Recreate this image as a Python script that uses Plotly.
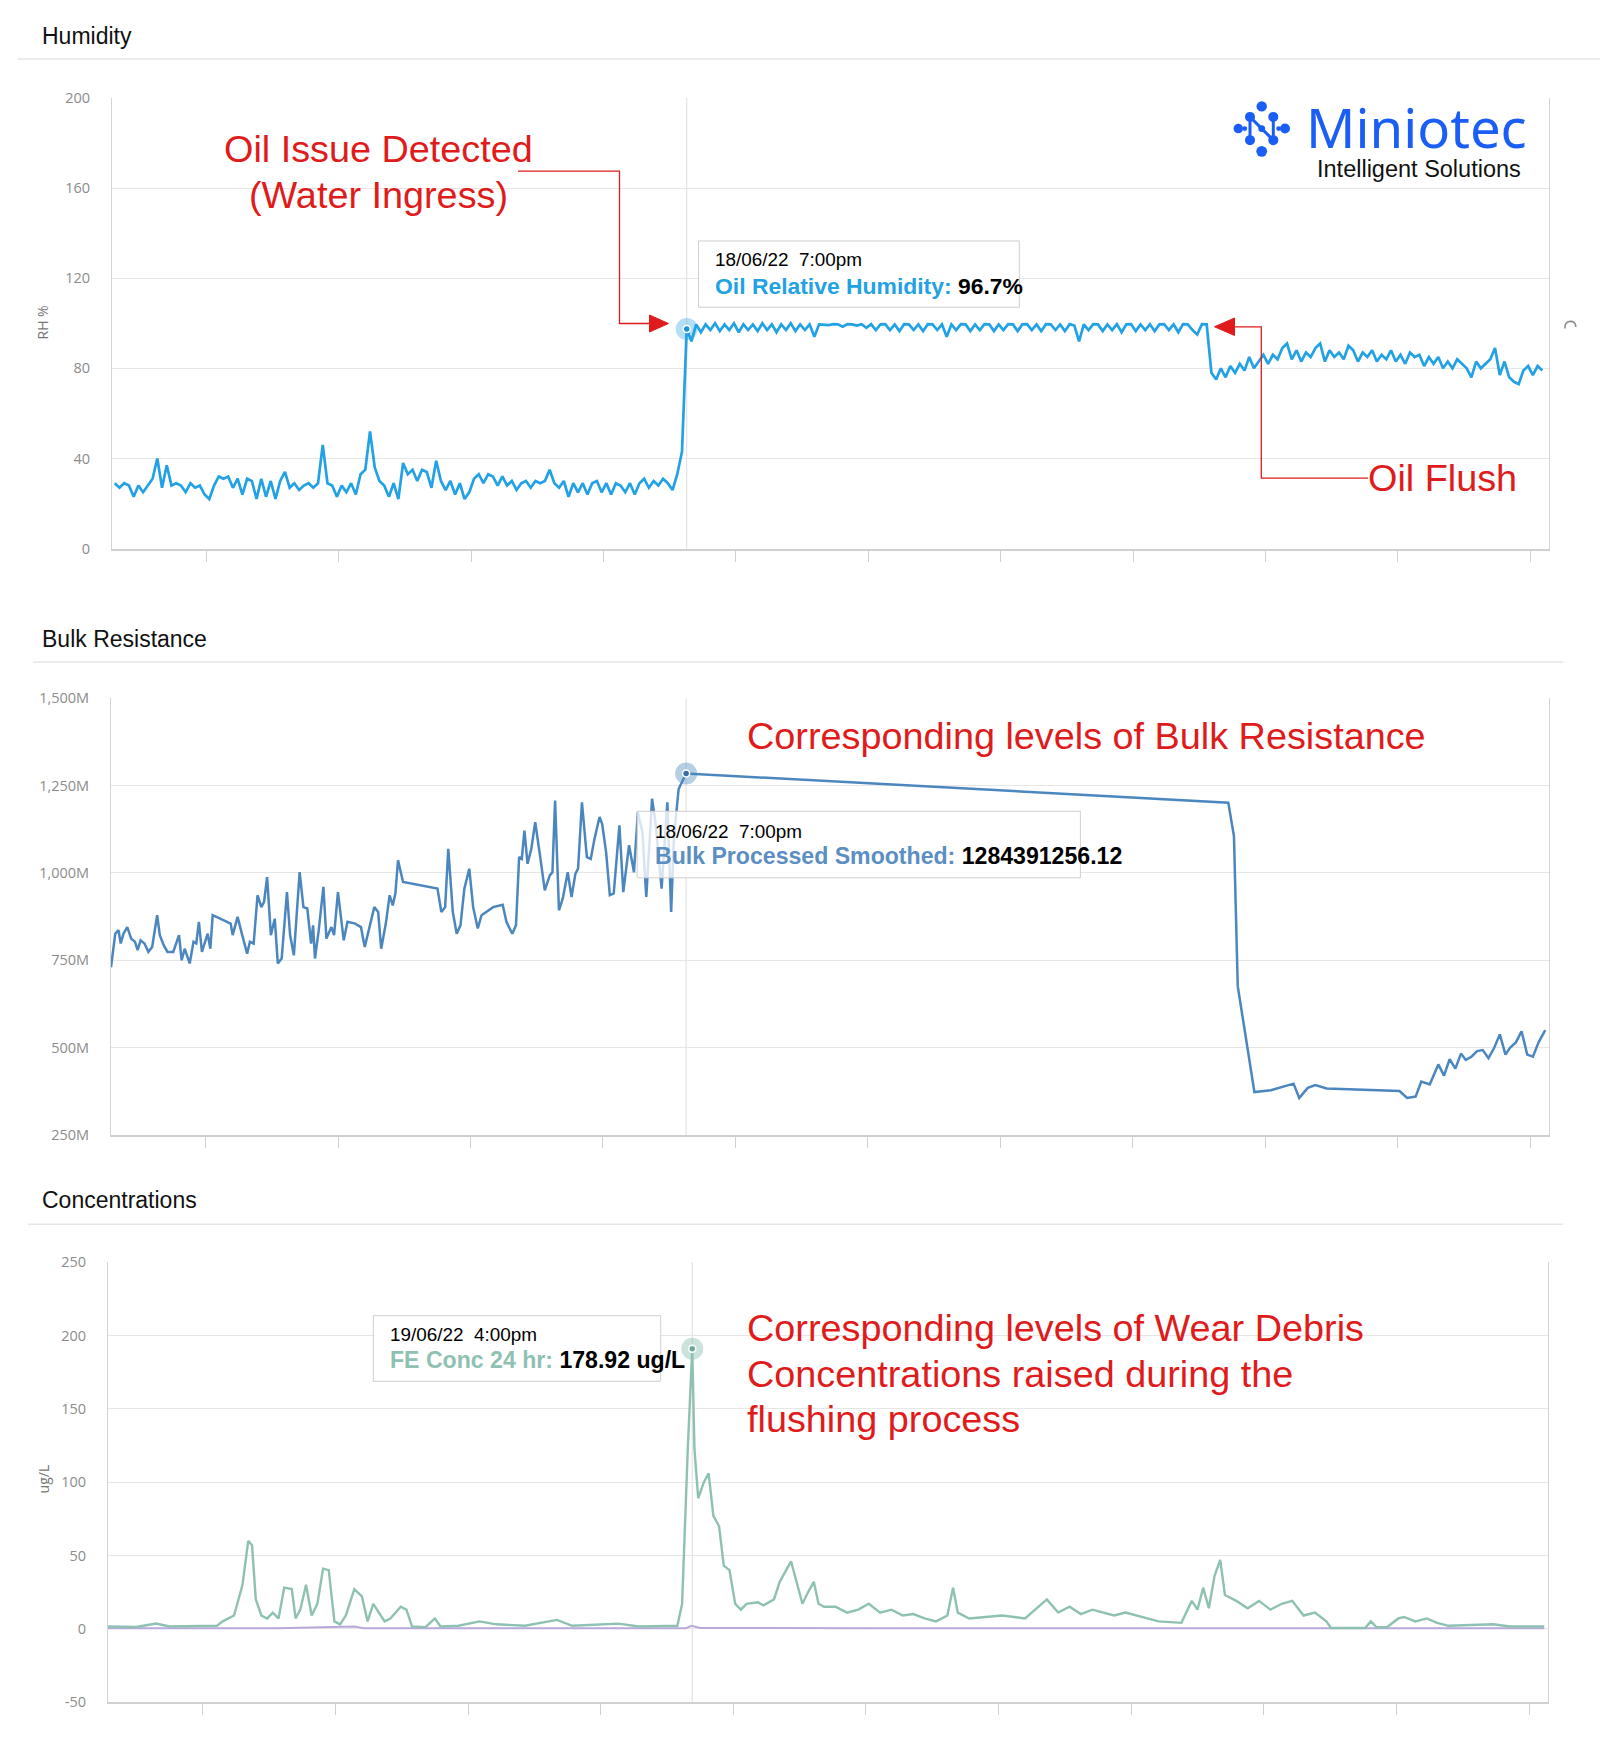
import plotly.graph_objects as go
import pandas as pd

W, H = 1600, 1747

# ---------------- data ----------------
RANGE_START = "2022-04-19 00:00"
RANGE_END = "2022-09-18 00:00"
TICK0 = "2022-04-29"
TICK_DAYS = 14

HUM_START = "2022-04-19 07:00"
HUM_STEP_HOURS = 12
HUM_RH = [
    29, 27, 29, 28, 23, 28, 25, 28, 31, 40,
    27, 37, 28, 29, 28, 25, 29, 27, 28, 24,
    22, 28, 32, 31, 32, 27, 31, 24, 31, 30,
    22, 31, 23, 30, 22, 30, 34, 27, 29, 26,
    28, 29, 27, 29, 46, 29, 28, 23, 28, 25,
    29, 24, 33, 35, 52, 36, 30, 28, 23, 29,
    22, 38, 33, 35, 30, 35, 34, 27, 39, 30,
    26, 30, 24, 29, 22, 25, 31, 33, 29, 33,
    32, 28, 32, 28, 30, 26, 29, 30, 27, 30,
    29, 30, 35, 29, 27, 30, 23, 29, 25, 29,
    24, 29, 30, 25, 29, 24, 29, 28, 25, 29,
    24, 29, 31, 27, 30, 28, 31, 29, 26, 33,
    43,
    97.5, 92, 99.5, 96, 99.5, 97, 100, 96.5, 99.5, 97,
    100, 96, 99.5, 97, 99.5, 96.5, 100, 97, 99.5, 96,
    99.5, 97, 100, 96.5, 99.5, 97, 99.5, 94, 99.5, 99.5,
    99.2, 99.6, 99.5, 98.5, 99.6, 99.5, 99, 99.6, 98, 99.6,
    97, 99.5, 99.6, 97, 99.5, 96.5, 99.6, 99.5, 97, 99.5,
    96.5, 99.6, 99.5, 97, 99.5, 94, 99.5, 97, 99.6, 99.5,
    96.5, 99.5, 97, 99.6, 99.5, 96.5, 99.5, 97, 99.6, 99.5,
    96.5, 99.5, 99.6, 97, 99.5, 96.5, 99.6, 99.5, 97, 99.5,
    96.5, 99.6, 99, 92, 99.5, 97, 99.6, 99.5, 96.5, 99.5,
    97, 99.6, 96, 99.5, 99.6, 96.5, 99.5, 97, 99.6, 96.5,
    99.5, 99.6, 97, 99.5, 96, 99.6, 99.5, 97, 95, 99.6, 99.5,
    78, 75, 80, 76, 81, 78, 82, 79, 85, 80,
    83, 86, 82, 86, 84, 89, 91, 84, 88, 83,
    87, 85, 89, 91, 83, 88, 85, 87, 84, 90,
    88, 83, 87, 85, 88, 83, 86, 84, 88, 83,
    86, 82, 87, 85, 86, 81, 85, 82, 85, 80,
    83, 80, 84, 82, 80, 76, 83, 80, 82, 84,
    89, 77, 83, 76, 74, 73, 79, 81, 77, 81, 79,
]

BULK_DAY = [
    0.00, 0.45, 0.79, 1.03, 1.32, 1.72, 2.13, 2.53, 2.81, 3.13, 3.54, 3.95, 4.35, 4.88,
    5.16, 5.57, 5.97, 6.58, 7.19, 7.47, 7.79, 8.32, 8.72, 9.01, 9.29, 9.61, 10.22, 10.50,
    10.75, 12.65, 12.86, 13.38, 13.87, 14.39, 14.68, 15.08, 15.49, 15.89, 16.18, 16.50,
    16.90, 17.31, 17.63, 18.04, 18.60, 18.93, 19.33, 19.94, 20.34, 20.75, 21.15, 21.36,
    21.56, 21.96, 22.45, 22.77, 23.30, 23.58, 23.99, 24.60, 25.00, 25.81, 26.42, 26.82,
    27.83, 28.24, 28.56, 29.05, 29.45, 29.78, 30.06, 30.34, 30.87, 34.51, 34.92, 35.32,
    35.65, 36.13, 36.54, 36.94, 37.35, 37.87, 38.28, 38.77, 39.17, 40.39, 41.40, 41.80,
    42.41, 42.81, 43.14, 43.42, 43.70, 44.03, 44.43, 44.84, 45.32, 45.85, 46.38, 46.66,
    46.94, 47.35, 47.75, 48.28, 48.68, 49.09, 49.37, 49.78, 50.30, 50.71, 51.11, 51.64,
    51.92, 52.33, 52.73, 53.14, 53.74, 54.15, 54.76, 55.28, 55.69, 56.17, 56.58, 57.19,
    57.59, 58.20, 58.81, 59.21, 59.50, 60.00, 60.79,
    118.10, 118.70, 119.10, 120.86, 122.6, 125.0, 125.6, 126.5, 127.3, 128.5, 136.2,
    137.0, 137.9, 138.5, 139.4, 140.3, 140.9, 141.5, 142.1, 142.7, 143.2, 143.8, 144.4,
    145.0, 145.6, 146.2, 146.8, 147.4, 147.9, 148.5, 149.1, 149.7, 150.3, 150.9, 151.6,
]
BULK_M = [
    730, 826, 836, 798, 826, 845, 812, 803, 779, 807, 798, 774, 788, 879,
    822, 793, 774, 774, 822, 750, 783, 741, 803, 798, 860, 774, 826, 783,
    879, 855, 822, 874, 822, 769, 803, 798, 936, 902, 917, 988,
    822, 869, 741, 755, 945, 822, 764, 1002, 902, 898, 798, 850,
    755, 836, 960, 812, 845, 822, 945, 807, 860, 855, 845, 788,
    902, 888, 783, 855, 936, 907, 941, 1036, 974, 955, 888, 902,
    1069, 888, 826, 850, 955, 1012, 902, 841, 879, 902, 909, 860,
    826, 850, 1045, 1040, 1121, 1026, 1069, 1145, 1055, 950, 993, 1002,
    1207, 893, 926, 1002, 931, 998, 1012, 1202, 1045, 1040, 1098, 1160,
    1140, 1060, 936, 941, 1136, 945, 1079, 1002, 1174, 1117, 931, 1212,
    1136, 955, 1202, 888, 1100, 1240, 1284.39,
    1201, 1105, 676, 373, 378, 397, 356, 385, 393, 383, 376,
    356, 360, 403, 395, 452, 420, 467, 440, 483, 465, 474, 490,
    493, 470, 499, 538, 480, 500, 515, 547, 480, 474, 515, 550,
]

FE_DAY = [
    0.0, 3.0, 5.07, 6.5, 11.5, 12.1, 13.3, 14.2, 14.8, 15.2, 15.6, 16.2, 16.8, 17.4,
    18.0, 18.6, 19.4, 19.8, 20.3, 20.9, 21.5, 22.1, 22.7, 23.3, 23.9, 24.5, 25.1, 26.0,
    26.8, 27.4, 28.0, 29.2, 29.8, 30.9, 31.5, 32.1, 33.5, 34.5, 35.1, 37.0, 39.2, 41.0,
    44.0, 47.4, 49.0, 53.9, 56.0, 59.2, 60.1, 60.6, 61.2, 61.67, 61.9, 62.3, 62.9, 63.4,
    63.9, 64.5, 65.0, 65.6, 66.2, 66.8, 67.4, 68.6, 69.2, 70.3, 70.9, 72.1, 72.7, 73.3,
    73.9, 74.5, 75.0, 75.6, 76.8, 78.0, 79.2, 80.3, 81.5, 82.7, 83.9, 85.0, 86.2, 87.4,
    88.6, 89.2, 89.7, 90.9, 94.4, 96.8, 99.1, 100.3, 101.5, 102.7, 103.9, 106.2, 107.4,
    108.6, 110.9, 113.3, 114.4, 115.0, 115.6, 116.2, 116.8, 117.4, 117.9, 119.1, 120.3,
    121.5, 122.7, 123.9, 125.0, 126.2, 127.4, 128.6, 129.1, 132.7, 133.3, 133.9, 135.0,
    136.2, 136.8, 138.0, 139.2, 140.3, 141.5, 146.2, 148.0, 151.6,
]
FE_UGL = [
    1.5, 1.2, 3.5, 1.5, 2, 5, 9, 30, 60, 57, 20, 9, 7, 11,
    7, 28, 27, 7, 13, 30, 9, 17, 41, 40, 5, 3, 9, 27,
    22, 5, 17, 5, 7, 15, 13, 1.5, 1, 7, 1.5, 2, 5, 3,
    2, 6, 2, 3.5, 1.5, 1.5, 2, 17, 123, 191, 123, 89, 100, 106,
    77, 70, 43, 40, 17, 13, 17, 18, 16, 20, 32, 46, 32, 17,
    25, 32, 17, 15, 15, 11, 13, 17, 11, 13, 9, 10, 7, 5,
    9, 28, 11, 7, 9, 7, 20, 11, 15, 10, 13, 9, 11,
    9, 5, 4, 19, 13, 28, 14, 36, 47, 23, 19, 14,
    19, 13, 17, 19, 9, 11, 5, 0.5, 0.5, 5, 1, 1,
    7, 8, 5, 7, 4, 2, 3, 1.5, 1.5,
]

OTHER_DAY = [0.0, 18.0, 26.0, 27.0, 40.0, 61.0, 61.6, 62.5, 80.0, 120.0, 151.6]
OTHER_UGL = [0.3, 0.4, 1.5, 0.4, 0.3, 0.4, 2.0, 0.5, 0.3, 0.3, 0.3]

HUM_TIP_TIME = "2022-06-18 19:00"
BULK_TIP_TIME = "2022-06-18 19:00"
FE_TIP_TIME = "2022-06-19 16:00"
HUM_TIP_DATE = "18/06/22\u00a0\u00a07:00pm"
BULK_TIP_DATE = "18/06/22\u00a0\u00a07:00pm"
FE_TIP_DATE = "19/06/22\u00a0\u00a04:00pm"
HUM_TIP_NAME, HUM_TIP_VALUE = "Oil Relative Humidity:", "96.7%"
BULK_TIP_NAME, BULK_TIP_VALUE = "Bulk Processed Smoothed:", "1284391256.12"
FE_TIP_NAME, FE_TIP_VALUE = "FE Conc 24 hr:", "178.92 ug/L"

RH_TICKS = [0, 40, 80, 120, 160, 200]
RH_TICK_LABELS = ["0", "40", "80", "120", "160", "200"]
BULK_TICKS = [250e6, 500e6, 750e6, 1000e6, 1250e6, 1500e6]
BULK_TICK_LABELS = ["250M", "500M", "750M", "1,000M", "1,250M", "1,500M"]
FE_TICKS = [-50, 0, 50, 100, 150, 200, 250]
FE_TICK_LABELS = ["-50", "0", "50", "100", "150", "200", "250"]

# ---------------- styles ----------------
HUM_C = "#22a1e4"
BULK_C = "#4c86be"
BULK_TXT = "#5b8ec2"
FE_C = "#8fc1b3"
OTHER_C = "#b9a8da"
RED = "#e01b1b"
LOGO_C = "#1a5ef5"
ARIAL = "Liberation Sans, Arial, sans-serif"
UI = "Open Sans, Noto Sans, sans-serif"
GRID = "#e6e6e6"
BORDER = "#d4d4d4"
RED_SIZE = 37.8

# the photographed page is offset/squeezed slightly in y; compensate
SY, OFF = 0.99092, 8.0


def X(p):
    return p / W


def Y(p):
    return 1 - (p / SY - OFF) / H


start = pd.Timestamp(HUM_START)
hum_x = [start + pd.Timedelta(hours=HUM_STEP_HOURS * i) for i in range(len(HUM_RH))]
base = pd.Timestamp(RANGE_START)
bulk_x = [base + pd.Timedelta(days=d) for d in BULK_DAY]
bulk_y = [v * 1e6 for v in BULK_M]
fe_x = [base + pd.Timedelta(days=d) for d in FE_DAY]
oth_x = [base + pd.Timedelta(days=d) for d in OTHER_DAY]


def nearest(xs, ys, t):
    t = pd.Timestamp(t)
    i = min(range(len(xs)), key=lambda k: abs((xs[k] - t).total_seconds()))
    return xs[i], ys[i]


fig = go.Figure()
fig.add_trace(go.Scatter(x=hum_x, y=HUM_RH, mode="lines", line=dict(color=HUM_C, width=2.7),
                         xaxis="x", yaxis="y", hoverinfo="skip"))
fig.add_trace(go.Scatter(x=bulk_x, y=bulk_y, mode="lines", line=dict(color=BULK_C, width=2.5),
                         xaxis="x2", yaxis="y2", hoverinfo="skip"))
fig.add_trace(go.Scatter(x=oth_x, y=OTHER_UGL, mode="lines", line=dict(color=OTHER_C, width=2),
                         xaxis="x3", yaxis="y3", hoverinfo="skip"))
fig.add_trace(go.Scatter(x=fe_x, y=FE_UGL, mode="lines", line=dict(color=FE_C, width=2.4),
                         xaxis="x3", yaxis="y3", hoverinfo="skip"))

for xs, ys, t, col, dot, xa, ya in [
    (hum_x, HUM_RH, HUM_TIP_TIME, "rgba(34,161,228,0.35)", "#1f8fd0", "x", "y"),
    (bulk_x, bulk_y, BULK_TIP_TIME, "rgba(76,134,190,0.4)", "#3a6fa3", "x2", "y2"),
    (fe_x, FE_UGL, FE_TIP_TIME, "rgba(143,193,179,0.45)", "#6fa898", "x3", "y3"),
]:
    px_, py_ = nearest(xs, ys, t)
    fig.add_trace(go.Scatter(x=[px_], y=[py_], mode="markers", xaxis=xa, yaxis=ya, hoverinfo="skip",
                             marker=dict(size=22, color=col, line=dict(width=0))))
    fig.add_trace(go.Scatter(x=[px_], y=[py_], mode="markers", xaxis=xa, yaxis=ya, hoverinfo="skip",
                             marker=dict(size=7, color=dot, line=dict(width=1.5, color="white"))))

panels = [
    # (x0, x1, ytop, ybottom)
    (112, 1549, 96, 547.5),
    (111, 1549, 697.3, 1135),
    (108, 1548, 1262.5, 1703),
]
yconf = [
    dict(range=[0, 200], tickvals=RH_TICKS, ticktext=RH_TICK_LABELS),
    dict(range=[250e6, 1500e6], tickvals=BULK_TICKS, ticktext=BULK_TICK_LABELS),
    dict(range=[-50, 250], tickvals=FE_TICKS, ticktext=FE_TICK_LABELS),
]

layout = dict(
    width=W, height=H, autosize=False,
    margin=dict(l=0, r=0, t=0, b=0, pad=0),
    paper_bgcolor="white", plot_bgcolor="white",
    showlegend=False, hovermode=False,
)
for i, ((x0, x1, yt, yb), yc) in enumerate(zip(panels, yconf)):
    sfx = "" if i == 0 else str(i + 1)
    layout["xaxis" + sfx] = dict(
        domain=[X(x0), X(x1)], anchor="y" + sfx, type="date",
        range=[RANGE_START, RANGE_END], tick0=TICK0, dtick=TICK_DAYS * 86400000,
        ticks="outside", ticklen=11, tickcolor="#d0d0d0", tickwidth=1,
        showticklabels=False, showgrid=False, zeroline=False,
        showline=True, linecolor="#d0d0d0", linewidth=2, fixedrange=True,
    )
    layout["yaxis" + sfx] = dict(
        domain=[Y(yb), Y(yt)], anchor="x" + sfx, **yc,
        showgrid=True, gridcolor=GRID, gridwidth=1, zeroline=False,
        showline=True, mirror=True, linecolor=BORDER, linewidth=1,
        ticks="", ticklabelstandoff=18,
        tickfont=dict(family=UI, size=14.5, color="#8c8c8c"), fixedrange=True,
    )

shapes = []
# section separators
for y, xa, xb in [(57, 18, 1600), (661, 33, 1563), (1224.5, 28, 1563)]:
    shapes.append(dict(type="line", xref="paper", yref="paper", x0=X(xa), x1=X(xb), y0=Y(y), y1=Y(y),
                       line=dict(color="#e6e6e6", width=1.5)))
# crosshair lines
for t, xa, ya in [(HUM_TIP_TIME, "x", "y"), (BULK_TIP_TIME, "x2", "y2"), (FE_TIP_TIME, "x3", "y3")]:
    shapes.append(dict(type="line", xref=xa, yref=ya + " domain", x0=t, x1=t, y0=0, y1=1,
                       line=dict(color="#dddddd", width=1), layer="below"))


def path(points, close=True):
    s = "M " + " L ".join(f"{X(a):.6f},{Y(b):.6f}" for a, b in points)
    return s + (" Z" if close else "")


# red connectors and arrowheads
shapes.append(dict(type="path", xref="paper", yref="paper",
                   path=path([(518, 169.4), (619.5, 169.4), (619.5, 322), (652, 322)], close=False),
                   line=dict(color=RED, width=1.3)))
shapes.append(dict(type="path", xref="paper", yref="paper",
                   path=path([(649.5, 313.5), (668.5, 322), (649.5, 330.5)]),
                   fillcolor=RED, line=dict(color=RED, width=1)))
shapes.append(dict(type="path", xref="paper", yref="paper",
                   path=path([(1232, 325.3), (1261.3, 325.3), (1261.3, 477), (1368, 477)], close=False),
                   line=dict(color=RED, width=1.3)))
shapes.append(dict(type="path", xref="paper", yref="paper",
                   path=path([(1234.5, 316.5), (1214.5, 325.3), (1234.5, 334)]),
                   fillcolor=RED, line=dict(color=RED, width=1)))

# tooltip boxes
for (x0, y0, x1, y1), op in [((698.5, 239.3, 1019.3, 305.7), 0.9),
                             ((637.2, 810.7, 1080.4, 877.3), 0.78),
                             ((373.3, 1316, 660.7, 1381.7), 0.9)]:
    shapes.append(dict(type="rect", xref="paper", yref="paper", x0=X(x0), x1=X(x1), y0=Y(y1), y1=Y(y0),
                       fillcolor=f"rgba(255,255,255,{op})", line=dict(color="#cfcfcf", width=1)))

# logo icon
dots = [(1261.7, 104.5, 5.2), (1250, 115, 5), (1273.3, 115, 5), (1238.3, 126.7, 4.8), (1285, 126.7, 5),
        (1261.7, 126.7, 3.4), (1250, 138.3, 5), (1273.3, 138.3, 5), (1261.7, 149.5, 5.4),
        (1244.8, 126.7, 2.4), (1278.6, 126.7, 2.4)]
for cx, cy, r in dots:
    shapes.append(dict(type="circle", xref="paper", yref="paper", x0=X(cx - r), x1=X(cx + r),
                       y0=Y(cy + r), y1=Y(cy - r), fillcolor=LOGO_C, line=dict(width=0)))
shapes.append(dict(type="path", xref="paper", yref="paper",
                   path=path([(1250, 138.3), (1250, 115), (1273.3, 138.3), (1273.3, 115)], close=False),
                   line=dict(color=LOGO_C, width=3)))
# small loading arc at right edge
shapes.append(dict(type="path", xref="paper", yref="paper",
                   path=(f"M {X(1565):.6f},{Y(327):.6f} C {X(1563.5):.6f},{Y(318):.6f} "
                         f"{X(1576.5):.6f},{Y(317.5):.6f} {X(1575.8):.6f},{Y(325.5):.6f}"),
                   line=dict(color="#8a8a8a", width=1.6)))

layout["shapes"] = shapes


def txt(x, y, s, size, color="#000000", family=ARIAL, xanchor="left", yanchor="middle", angle=0):
    return dict(x=X(x), y=Y(y), xref="paper", yref="paper", text=s, showarrow=False,
                xanchor=xanchor, yanchor=yanchor, textangle=angle, borderpad=0,
                font=dict(size=size, color=color, family=family), align="left")


ann = [
    txt(41, 33.5, "Humidity", 23, "#111111"),
    txt(41, 638, "Bulk Resistance", 23, "#111111"),
    txt(41, 1200, "Concentrations", 23, "#111111"),
    txt(43, 321, "RH %", 14, "#777777", UI, xanchor="center", angle=-90),
    txt(43, 1480, "ug/L", 14, "#777777", UI, xanchor="center", angle=-90),
    txt(378, 147, "Oil Issue Detected", RED_SIZE, RED, xanchor="center"),
    txt(378, 193, "(Water Ingress)", RED_SIZE, RED, xanchor="center"),
    txt(1367, 477, "Oil Flush", RED_SIZE, RED),
    txt(746, 735, "Corresponding levels of Bulk Resistance", RED_SIZE, RED),
    txt(746, 1328, "Corresponding levels of Wear Debris", RED_SIZE, RED),
    txt(746, 1374, "Concentrations raised during the", RED_SIZE, RED),
    txt(746, 1419.5, "flushing process", RED_SIZE, RED),
    txt(1305, 125, "Miniotec", 54.5, LOGO_C, "Noto Sans, Open Sans, sans-serif"),
    txt(1316, 167.5, "Intelligent Solutions", 23.5, "#111111"),
    # tooltips
    txt(714, 258.3, HUM_TIP_DATE, 18.9),
    txt(714, 284, f"<b><span style='color:{HUM_C}'>{HUM_TIP_NAME}</span> {HUM_TIP_VALUE}</b>", 22.9),
    txt(653.5, 830.6, BULK_TIP_DATE, 18.9),
    txt(653.5, 855.5, f"<b><span style='color:{BULK_TXT}'>{BULK_TIP_NAME}</span> {BULK_TIP_VALUE}</b>", 23.1),
    txt(389, 1335, FE_TIP_DATE, 18.9),
    txt(389, 1360.5, f"<b><span style='color:{FE_C}'>{FE_TIP_NAME}</span> {FE_TIP_VALUE}</b>", 23.1),
]
layout["annotations"] = ann

fig.update_layout(**layout)
fig.write_html("out.html", config={"displayModeBar": False, "staticPlot": True})
